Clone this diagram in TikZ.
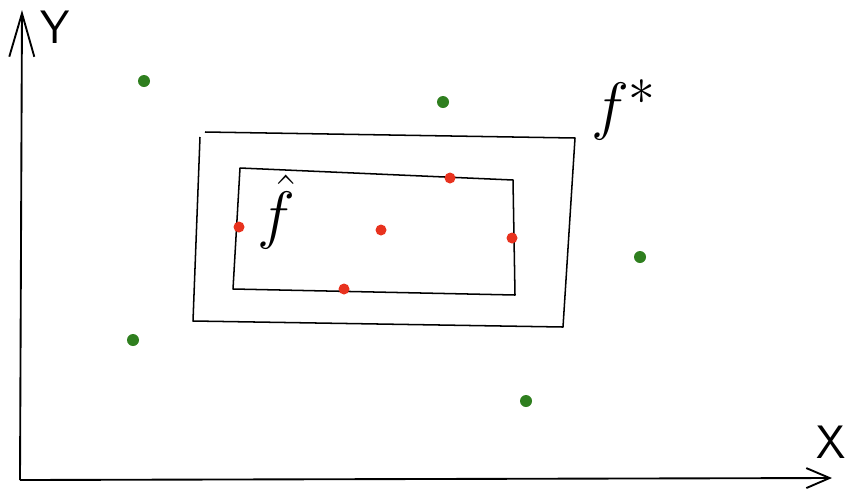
\documentclass[tikz,border=0pt]{standalone}
\usepackage{amsmath,amssymb}
\usepackage{tikz}
\usetikzlibrary{arrows.meta,positioning}
\usepackage{xcolor}
\definecolor{ptred}{HTML}{E8321E}
\definecolor{ptgreen}{HTML}{2F7F1F}

\begin{document}
\begin{tikzpicture}[
    x=0.03cm, y=-0.03cm,
    axis/.style={line width=1.6pt},
    box/.style={line width=1.3pt, line join=round},
    redpt/.style={circle, fill=ptred, inner sep=0pt, minimum size=3.3mm},
    greenpt/.style={circle, fill=ptgreen, inner sep=0pt, minimum size=3.6mm},
    axlabel/.style={font=\fontsize{40}{42}\selectfont\sffamily, inner sep=0pt},
    mylabel/.style={font=\Huge, inner sep=0pt, scale=2.2, transform shape},
    ]

    \useasboundingbox (0,0) rectangle (845,493);

    % axes
    \coordinate (O) at (20,480);
    \coordinate (xend) at (832,478);
    \coordinate (yend) at (22,10);
    \draw[axis, -{Straight Barb[length=13mm, width=7.5mm]}] (O) -- (yend);
    \draw[axis, -{Straight Barb[length=7mm, width=6mm]}] (O) -- (xend);
    \node[axlabel] (xlab) at (831,442) {X};
    \node[axlabel] (ylab) at (55,27) {Y};

    % outer box (f*)
    \draw[box] (205,132) -- (575,138) -- (563,327) -- (193,321) -- (200,137);
    \node[mylabel] (fstar) at (624,110) {$f^{*}$};

    % inner box (f hat)
    \draw[box] (240,168) -- (513,180) -- (515,295) -- (233,289) -- cycle;
    \node[mylabel] (fhat) at (276,212) {$\hat{f}$};

    % points on and inside the inner box
    \node[redpt] (r1) at (239,227) {};
    \node[redpt] (r2) at (381,230) {};
    \node[redpt] (r3) at (450,178) {};
    \node[redpt] (r4) at (512,238) {};
    \node[redpt] (r5) at (344,289) {};

    % points outside
    \node[greenpt] (g1) at (144,81) {};
    \node[greenpt] (g2) at (443,102) {};
    \node[greenpt] (g3) at (640,257) {};
    \node[greenpt] (g4) at (133,340) {};
    \node[greenpt] (g5) at (526,401) {};
\end{tikzpicture}
\end{document}
